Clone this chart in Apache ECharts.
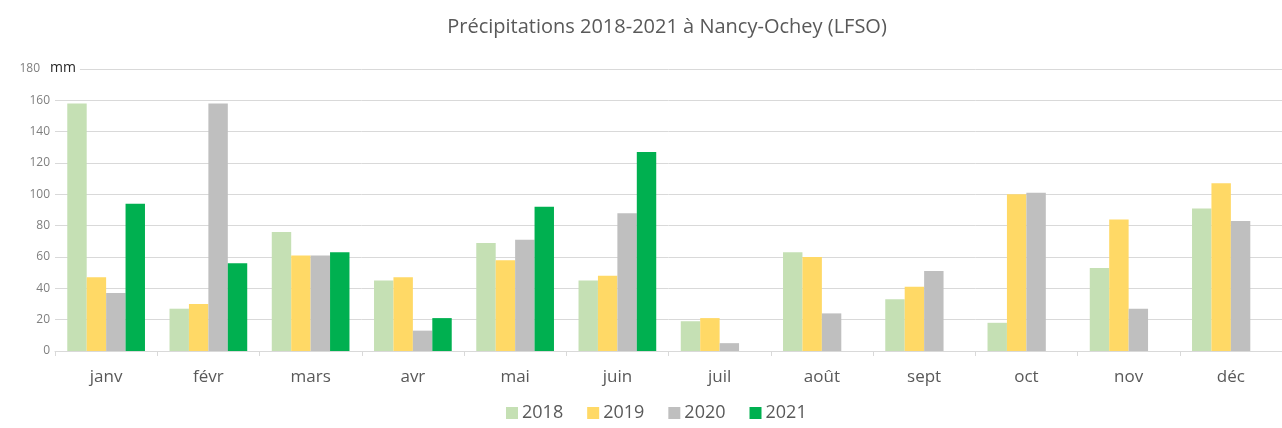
<!DOCTYPE html>
<html>
<head>
<meta charset="utf-8">
<script src="https://cdn.jsdelivr.net/npm/echarts@6/dist/echarts.min.js"></script>
<style>
html,body{margin:0;padding:0;background:#fff;}
#c{width:1282px;height:428px;}
</style>
</head>
<body>
<div id="c"></div>
<script>
const months = ['janv','févr','mars','avr','mai','juin','juil','août','sept','oct','nov','déc'];
const years = ['2018','2019','2020','2021'];
const v2018 = [158, 27, 76, 45, 69, 45, 19, 63, 33, 18, 53, 91];
const v2019 = [47, 30, 61, 47, 58, 48, 21, 60, 41, 100, 84, 107];
const v2020 = [37, 158, 61, 13, 71, 88, 5, 24, 51, 101, 27, 83];
const v2021 = [94, 56, 63, 21, 92, 127, null, null, null, null, null, null];
const yTicks = [0, 20, 40, 60, 80, 100, 120, 140, 160, 180];
const colors = ['#c5e0b4', '#ffd966', '#bfbfbf', '#00b050'];

const chart = echarts.init(document.getElementById('c'), null, {renderer: 'canvas'});
const seriesData = [v2018, v2019, v2020, v2021];
chart.setOption({
  animation: false,
  title: {
    text: 'Précipitations 2018-2021 à Nancy-Ochey (LFSO)',
    left: 662,
    textAlign: 'center',
    top: 12,
    textStyle: {fontFamily: 'Open Sans', fontSize: 20, fontWeight: 'normal', color: '#595959'}
  },
  legend: {
    top: 399,
    left: 501,
    itemWidth: 12,
    itemHeight: 12,
    itemGap: 24,
    icon: 'rect',
    textStyle: {fontFamily: 'Open Sans', fontSize: 18, color: '#595959', padding: [0,0,0,-1]},
    data: years
  },
  grid: {left: 55, top: 69, width: 1235, bottom: 77},
  xAxis: {
    type: 'category',
    data: months,
    axisLine: {lineStyle: {color: '#d9d9d9'}},
    axisTick: {show: true, length: 5, lineStyle: {color: '#d9d9d9'}},
    axisLabel: {fontFamily: 'Open Sans', fontSize: 17, color: '#595959', margin: 18}
  },
  yAxis: {
    type: 'value',
    min: yTicks[0],
    max: yTicks[yTicks.length - 1],
    interval: 20,
    axisLine: {show: false},
    axisTick: {show: false},
    axisLabel: {fontFamily: 'Open Sans', fontSize: 12, color: '#7f7f7f', margin: 5,
      formatter: function(v){
        if (v === 180) return '{t|180}';
        return yTicks.indexOf(v) >= 0 ? String(v) : '';
      },
      rich: {t: {fontFamily: 'Open Sans', fontSize: 12, color: '#7f7f7f', padding: [0, 10, 0, 0]}}
    },
    splitLine: {lineStyle: {color: '#d9d9d9', width: 1}}
  },
  graphic: [{
    type: 'text',
    left: 49,
    top: 61,
    z: 100,
    zlevel: 0,
    style: {text: 'mm', fontFamily: 'Open Sans', fontSize: 14, fill: '#262626',
      backgroundColor: '#ffffff', padding: [0, 4, 0, 1]}
  }],
  series: years.map((y, i) => ({
    name: y,
    type: 'bar',
    data: seriesData[i],
    barGap: '0%',
    barCategoryGap: '24%',
    itemStyle: {color: colors[i]}
  }))
});
</script>
</body>
</html>
